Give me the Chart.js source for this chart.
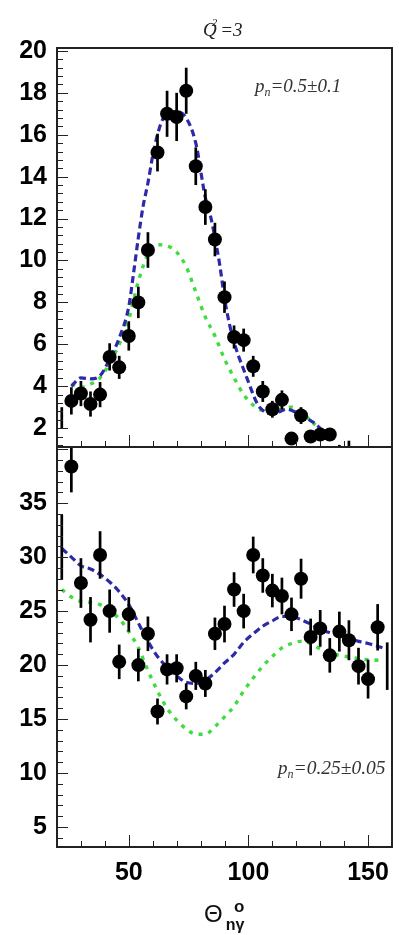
<!DOCTYPE html>
<html><head><meta charset="utf-8">
<script src="https://cdn.jsdelivr.net/npm/chart.js@4.4.1/dist/chart.umd.min.js"></script>
<style>
html,body{margin:0;padding:0;background:#fff;}
#wrap{position:relative;width:399px;height:935px;overflow:hidden;background:#fff;}
canvas{position:absolute;left:0;}
#c1{top:0px;}
#c2{top:437px;}
</style></head><body>
<div id="wrap">
<canvas id="c1" width="399" height="457"></canvas>
<canvas id="c2" width="399" height="498"></canvas>
</div>
<script>
// ---------- data ----------
const xTickLabels = [50, 100, 150];
const yTickLabelsTop = [2, 4, 6, 8, 10, 12, 14, 16, 18, 20];
const yTickLabelsBottom = [5, 10, 15, 20, 25, 30, 35];

// upper panel: p_n = 0.5 +- 0.1
const thetaTop = [26,30,34,38,42,46,50,54,58,62,66,70,74,78,82,86,90,94,98,102,106,110,114,118,122,126,130,134];
const yieldTop = [3.3,3.65,3.15,3.6,5.4,4.9,6.4,8.0,10.5,15.15,17.0,16.85,18.1,14.5,12.55,11.0,8.25,6.35,6.2,4.95,3.75,2.9,3.35,1.5,2.6,1.6,1.7,1.7];
const errTop = [0.65,0.6,0.6,0.6,0.65,0.55,0.7,0.75,0.85,0.9,1.1,1.15,1.1,0.9,0.85,0.8,0.75,0.55,0.55,0.5,0.5,0.4,0.45,0.2,0.4,0.2,0.2,0.2];
// bins whose markers fall outside the frame (only the error bar is visible)
const edgeThetaTop = [22, 138, 142];
const edgeYieldTop = [2.5, 0.9, 1.0];
const edgeErrTop = [0.5, 0.3, 0.4];

const fitThetaTopBlue = [26,30,34,38,42,46,50,52,54,56,58,60,62,64,66,70,74,78,82,84,86,88,90,92,94,96,98,100,102,104,106,108,112,116,120,124,128,132,134];
const fitTopBlue = [4.0,4.4,4.35,4.5,5.3,6.3,7.8,9.4,11.1,12.6,13.7,15.0,16.0,16.7,17.0,17.1,16.8,15.6,13.0,12.2,11.1,9.8,8.2,7.0,6.1,5.4,4.8,4.2,3.6,3.1,2.85,2.7,2.75,2.9,2.75,2.5,2.2,1.75,1.5];
const fitThetaTopGreen = [26,30,34,38,42,46,50,54,58,62,66,70,74,78,82,86,90,94,98,102,106,110,114,118,122,126,128];
const fitTopGreen = [4.1,3.95,4.1,4.4,5.1,6.0,7.2,9.0,10.3,10.75,10.7,10.4,9.7,8.5,7.3,6.4,5.3,4.4,3.6,3.1,2.85,2.85,2.9,3.0,2.8,2.35,2.15];

// lower panel: p_n = 0.25 +- 0.05
const thetaBottom = [26,30,34,38,42,46,50,54,58,62,66,70,74,78,82,86,90,94,98,102,106,110,114,118,122,126,130,134,138,142,146,150,154];
const yieldBottom = [38.4,27.6,24.2,30.2,25.0,20.3,24.7,20.0,22.9,15.7,19.6,19.7,17.1,19.0,18.3,22.9,23.8,27.0,25.0,30.2,28.3,26.9,26.4,24.7,28.0,22.6,23.4,20.9,23.1,22.3,19.9,18.7,23.5];
const errBottom = [2.4,2.3,2.1,2.2,2.0,1.6,1.6,1.5,1.6,1.2,1.4,1.3,1.2,1.3,1.25,1.5,1.7,1.6,1.6,1.7,1.6,1.55,1.7,1.55,1.85,1.7,1.7,1.6,1.85,1.85,1.7,1.8,2.15];
const edgeThetaBottom = [22, 158];
const edgeYieldBottom = [30.9, 19.9];
const edgeErrBottom = [3.0, 2.2];

const fitThetaBottom = [22,26,30,34,38,42,46,50,54,58,62,66,70,74,78,82,86,90,94,98,102,106,110,114,118,122,126,130,134,138,142,146,150,154,156];
const fitBottomBlue = [30.8,30.0,29.2,28.9,28.4,27.7,26.8,25.6,23.9,22.2,20.8,19.8,19.0,18.4,18.3,18.6,19.3,20.2,21.0,22.1,22.9,23.6,24.1,24.5,24.5,24.2,23.8,23.3,23.0,22.7,22.45,22.2,22.0,21.75,21.6];
const fitBottomGreen = [27.0,26.3,25.9,25.8,25.6,25.0,24.3,23.1,21.6,19.5,17.6,16.0,14.9,14.1,13.6,13.6,14.3,15.2,16.2,17.6,18.8,19.9,20.8,21.6,22.0,22.2,22.0,21.5,21.1,20.9,20.75,20.6,20.5,20.45,20.4];

// ---------- helpers ----------
const pts = (xs, ys) => xs.map((x, i) => ({x, y: ys[i]}));
const BLUE = '#2d2aa8';
const GREEN = '#3fdc3f';
const TICK_FONT = {family: '"Liberation Sans", Arial, sans-serif', size: 25, weight: 'bold'};

const errorBars = {
  id: 'errorBars',
  beforeDatasetDraw(chart, args, opts) {
    if (args.index !== 0) return;
    const {ctx, chartArea: a, scales: {x, y}} = chart;
    ctx.save();
    ctx.beginPath();
    ctx.rect(a.left, a.top, a.right - a.left, a.bottom - a.top);
    ctx.clip();
    ctx.strokeStyle = '#000';
    ctx.lineWidth = 2.7;
    for (const set of opts.sets) {
      set.x.forEach((xv, i) => {
        const px = x.getPixelForValue(xv);
        ctx.beginPath();
        ctx.moveTo(px, y.getPixelForValue(set.y[i] - set.e[i]));
        ctx.lineTo(px, y.getPixelForValue(set.y[i] + set.e[i]));
        ctx.stroke();
      });
    }
    ctx.restore();
  }
};

const frame = {
  id: 'frame',
  afterDraw(chart, args, opts) {
    const {ctx, chartArea: a, scales: {x, y}} = chart;
    ctx.save();
    ctx.strokeStyle = '#222';
    ctx.lineWidth = 1;
    const yMaj = opts.yMajor;
    const n0 = Math.ceil(y.min / opts.yMinor - 1e-6), n1 = Math.floor(y.max / opts.yMinor + 1e-6);
    for (let k = n0; k <= n1; k++) {
      const v = k * opts.yMinor;
      const isMaj = Math.abs(v / yMaj - Math.round(v / yMaj)) < 1e-6;
      const py = Math.round(y.getPixelForValue(v)) + 0.5;
      ctx.beginPath();
      ctx.moveTo(a.left, py);
      ctx.lineTo(a.left + (isMaj ? 11 : 6), py);
      ctx.stroke();
    }
    for (let v = 20; v <= 160; v += 10) {
      const isMaj = v % 50 === 0;
      const px = Math.round(x.getPixelForValue(v)) + 0.5;
      ctx.beginPath();
      ctx.moveTo(px, a.bottom);
      ctx.lineTo(px, a.bottom - (isMaj ? 12 : 6));
      ctx.stroke();
    }
    ctx.lineWidth = 2;
    ctx.strokeRect(a.left, a.top, a.right - a.left, a.bottom - a.top);
    ctx.restore();

    ctx.save();
    ctx.textBaseline = 'alphabetic';
    ctx.textAlign = 'left';
    for (const t of opts.texts) {
      let cx = t.x;
      for (const p of t.parts) {
        ctx.font = p.font;
        ctx.fillStyle = p.color || '#222';
        ctx.fillText(p.t, cx + (p.dx || 0), t.y + (p.dy || 0));
        cx += ctx.measureText(p.t).width + (p.dx || 0) + (p.adv || 0);
      }
    }
    ctx.restore();
  }
};

function makeChart(id, cfg) {
  const yAxisFit = s => { s.width = 57; s.paddingTop = 0; s.paddingBottom = 0; };
  return new Chart(document.getElementById(id), {
    type: 'scatter',
    data: {datasets: [
      {data: pts(cfg.theta, cfg.yield), pointRadius: 7, pointHoverRadius: 7, backgroundColor: '#000', borderColor: '#000', pointBorderWidth: 0, showLine: false},
      {data: pts(cfg.fitXB, cfg.blue), showLine: true, borderColor: BLUE, borderWidth: 3.2, borderDash: [7, 4], pointRadius: 0, cubicInterpolationMode: 'monotone', fill: false},
      {data: pts(cfg.fitXG, cfg.green), showLine: true, borderColor: GREEN, borderWidth: 3.4, borderDash: [4, 6], pointRadius: 0, cubicInterpolationMode: 'monotone', fill: false}
    ]},
    options: {
      responsive: false, animation: false, devicePixelRatio: 1,
      layout: {padding: cfg.padding},
      plugins: {legend: {display: false}, tooltip: {enabled: false},
        errorBars: {sets: [{x: cfg.theta, y: cfg.yield, e: cfg.err}, {x: cfg.edgeX, y: cfg.edgeY, e: cfg.edgeE}]},
        frame: {yMajor: cfg.yMajor, yMinor: cfg.yMinor, texts: cfg.texts}
      },
      scales: {
        x: {type: 'linear', min: 20, max: 160, display: cfg.showX,
          grid: {display: false, drawTicks: false}, border: {display: false},
          ticks: {font: TICK_FONT, color: '#000', padding: 11, autoSkip: false, maxRotation: 0},
          afterBuildTicks: s => { s.ticks = xTickLabels.map(v => ({value: v})); },
          afterFit: s => { if (cfg.showX) s.height = 88; s.paddingLeft = 0; s.paddingRight = 0; }
        },
        y: {type: 'linear', min: cfg.ymin, max: cfg.ymax,
          grid: {display: false, drawTicks: false}, border: {display: false},
          ticks: {font: TICK_FONT, color: '#000', padding: 10},
          afterBuildTicks: s => { s.ticks = cfg.yTicks.map(v => ({value: v})); },
          afterFit: yAxisFit
        }
      }
    },
    plugins: [errorBars, frame]
  });
}

const SERIF_I = sz => `italic ${sz}px "Liberation Serif", "Times New Roman", serif`;

makeChart('c1', {
  theta: thetaTop, yield: yieldTop, err: errTop,
  edgeX: edgeThetaTop, edgeY: edgeYieldTop, edgeE: edgeErrTop,
  fitXB: fitThetaTopBlue, blue: fitTopBlue, fitXG: fitThetaTopGreen, green: fitTopGreen,
  ymin: 1.1, ymax: 20.14, yTicks: yTickLabelsTop, yMajor: 2, yMinor: 0.4,
  showX: false, padding: {top: 48, left: 0, right: 2, bottom: 10},
  texts: [
    {x: 203, y: 36, parts: [
      {t: 'Q', font: SERIF_I(19)},
      {t: '2', font: SERIF_I(11), dx: -5, dy: -10, adv: 3},
      {t: '=3', font: SERIF_I(19)}
    ]},
    {x: 255, y: 92, parts: [
      {t: 'p', font: SERIF_I(19), color: '#333'},
      {t: 'n', font: SERIF_I(12), dy: 4, color: '#333'},
      {t: '=0.5\u00b10.1', font: SERIF_I(19), color: '#333'}
    ]}
  ]
});

makeChart('c2', {
  theta: thetaBottom, yield: yieldBottom, err: errBottom,
  edgeX: edgeThetaBottom, edgeY: edgeYieldBottom, edgeE: edgeErrBottom,
  fitXB: fitThetaBottom, blue: fitBottomBlue, fitXG: fitThetaBottom, green: fitBottomGreen,
  ymin: 3.15, ymax: 40.2, yTicks: yTickLabelsBottom, yMajor: 5, yMinor: 1,
  showX: true, padding: {top: 10, left: 0, right: 2, bottom: 0},
  texts: [
    {x: 278, y: 337, parts: [
      {t: 'p', font: SERIF_I(19), color: '#333'},
      {t: 'n', font: SERIF_I(12), dy: 4, color: '#333'},
      {t: '=0.25\u00b10.05', font: SERIF_I(19.5), color: '#333'}
    ]},
    {x: 204, y: 485, parts: [
      {t: '\u0398', font: '24px "Liberation Sans", Arial, sans-serif', color: '#111'},
      {t: 'n\u03b3', font: 'bold 16px "Liberation Sans", Arial, sans-serif', dx: 3, dy: 8, color: '#111'}
    ]},
    {x: 234, y: 475, parts: [
      {t: 'o', font: 'bold 17px "Liberation Sans", Arial, sans-serif', color: '#111'}
    ]}
  ]
});
</script>
</body></html>
